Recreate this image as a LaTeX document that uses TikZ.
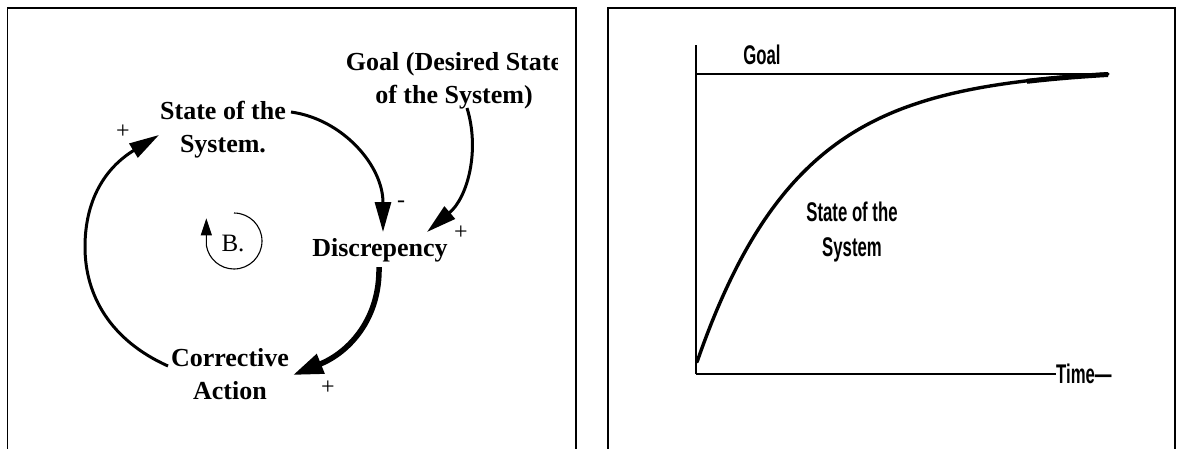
\documentclass[tikz,border=0pt]{standalone}
\usepackage{fontspec}
\setmainfont{Liberation Serif}
\newfontfamily\narrowsans[FakeStretch=0.62]{Liberation Sans}
\usetikzlibrary{arrows.meta}

\begin{document}
\begin{tikzpicture}[x=1pt,y=-1pt,
  panel/.style={draw, line width=1.4pt},
  lbl/.style={font=\fontsize{26}{33}\selectfont\bfseries, inner sep=0pt, align=center},
  sgn/.style={font=\fontsize{24}{28}\selectfont, inner sep=0pt},
  glbl/.style={font=\narrowsans\bfseries\fontsize{27}{35}\selectfont, inner sep=0pt, align=center},
  link/.style={line width=3pt, -{Triangle[length=30pt,width=16pt]}},
  thicklink/.style={line width=5.5pt, -{Triangle[length=30pt,width=20pt]}},
  axisline/.style={line width=2pt},
  curveline/.style={line width=3.4pt, line cap=round},
]
\useasboundingbox (0,0) rectangle (1184,448);
% panels
\draw[panel] (7.5,8) rectangle (576,452);
\draw[panel] (608,8) rectangle (1175,452);

% ---------- left: causal loop ----------
\node[lbl, anchor=north] (state) at (223,101) {State of the\\System.};
\begin{scope}
  \clip (330,30) rectangle (557,125);
  \node[lbl, anchor=north] (goal) at (454,52) {Goal (Desired State\\of the System)};
\end{scope}
\node[lbl, anchor=base] (disc) at (380,256) {Discrepency};
\node[lbl, anchor=north] (corr) at (230,348) {Corrective\\Action};

\node[sgn] (p1) at (123,132) {+};
\node[sgn] (m1) at (401,204) {-};
\node[sgn] (p2) at (461,233) {+};
\node[sgn] (p3) at (328,388) {+};

\node[font=\fontsize{25}{30}\selectfont, inner sep=0pt] (B) at (233,243) {B.};
\coordinate (loopc) at (234,241);
\draw[line width=1.1pt, -{Triangle[length=17pt,width=11pt]}]
  (loopc) ++(0,-28) arc[start angle=-90, end angle=171, radius=28] -- ++(0,-27);

\coordinate (stateR) at (291,112);
\coordinate (discT) at (383,232);
\coordinate (goalB) at (467,108);
\coordinate (discR) at (427,232);
\coordinate (discB) at (379,267);
\coordinate (corrR) at (293,375);
\coordinate (corrL) at (168,366);
\coordinate (stateL) at (159,135);

\draw[link] (stateR) .. controls (342,119) and (383,165) .. (discT);
\draw[link] (goalB) .. controls (480,150) and (468,197) .. (discR);
\draw[thicklink] (discB) .. controls (380,318) and (350,352) .. (corrR);
\draw[link] (corrL) .. controls (110,340) and (85,295) .. (85,247)
  .. controls (85,200) and (105,168) .. (stateL);

% ---------- right: behaviour over time ----------
\coordinate (O) at (696,374);
\coordinate (ytop) at (696,45);
\coordinate (g0) at (696,74);
\coordinate (g1) at (1107,74);
\node[glbl, anchor=base] (goallbl) at (762,64) {Goal};
\node[glbl, anchor=base west] (time) at (1056,383) {Time—};
\node[glbl, anchor=north] (sys) at (852,202) {State of the\\System};

\draw[line width=1.5pt] (O) -- (ytop);
\draw[axisline] (g0) -- (g1);
\draw[axisline] (O) -- (O -| time.west);
\draw[curveline] plot[domain=0:411, samples=90, smooth]
  ({697+\x},{74+288*(exp(-\x/100)-0.0164*\x/411)});
\draw[line width=5pt] plot[domain=330:411, samples=20, smooth]
  ({697+\x},{74.5+288*(exp(-\x/100)-0.0164*\x/411)});
\end{tikzpicture}
\end{document}
